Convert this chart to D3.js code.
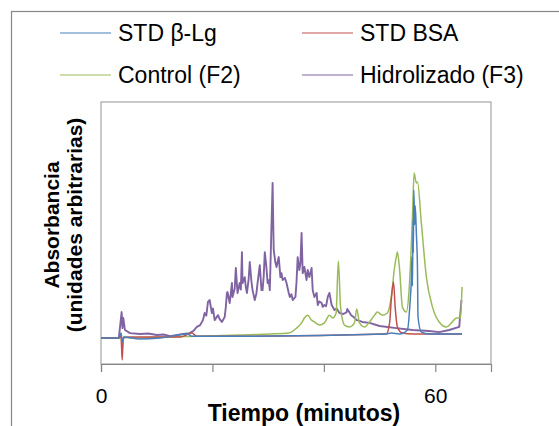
<!DOCTYPE html>
<html><head><meta charset="utf-8">
<script src="https://cdn.jsdelivr.net/npm/d3@7"></script>
<style>html,body{margin:0;padding:0;background:#fff;overflow:hidden}</style>
</head><body>
<svg id="c" width="559" height="426"></svg>
<script>
// ---- data: [time (min), absorbance (arbitrary units)] ----
const seriesNames = ["STD β-Lg", "STD BSA", "Control (F2)", "Hidrolizado (F3)"];
const seriesColors = ["#4A7EBB", "#C0504D", "#9BBB59", "#8064A2"];
const xTicks = [0, 20, 40, 60];
const xTickLabels = ["0", "", "", "60"];

const stdBLg = [[0,0],[3.2,0],[3.6,2.1],[3.8,-1.7],[4.1,0.4],[7.0,-0.4],[10.6,0],[15.6,1.7],[16.3,0.8],[26.7,0.8],[51.2,1.7],[52.1,2.1],[53.6,1.7],[55.0,3.4],[55.5,16.1],[55.7,24.6],[55.8,34.3],[55.9,22],[56.0,50],[56.05,36],[56.15,62.7],[56.3,48],[56.4,56],[56.6,44.5],[56.8,30.1],[56.9,8.9],[57.5,2.5],[58.9,1.7],[64.8,1.7]];
const stdBSA = [[0,0],[3.2,0],[3.6,0.8],[3.8,-9.3],[4.0,0],[5.2,0.4],[14.2,0.4],[16.3,2.1],[17.2,0.8],[26.7,0.8],[51.2,1.7],[51.8,6.4],[52.1,16.1],[52.5,23.7],[52.8,13.1],[53.2,4.7],[54.1,2.1],[55.9,1.7],[64.8,1.7]];
const controlF2 = [[0,0],[3.2,0],[3.6,1.7],[3.8,-5.1],[4.0,0.4],[5.2,0],[10.6,0.4],[17.7,0.8],[24.9,1.3],[30.3,1.7],[33.7,2.1],[35.1,4.2],[36.0,6.4],[36.5,8.5],[37.1,9.7],[37.8,7.6],[38.3,6.8],[39.2,5.5],[40.1,6.4],[41.0,9.7],[41.6,8.5],[42.2,10.6],[42.6,32.6],[43.0,13.1],[43.7,5.5],[44.6,4.7],[45.5,6.4],[45.9,12.3],[46.4,6.4],[47.3,4.7],[48.2,6.8],[49.1,9.7],[49.6,11.0],[50.5,9.7],[51.4,10.6],[52.1,17.4],[52.7,30.1],[53.0,34.3],[53.2,36.4],[53.6,28.8],[54.1,13.1],[54.8,11.0],[55.3,20.3],[55.9,51.3],[56.2,69.9],[56.6,65.7],[56.8,66.1],[57.5,48.7],[58.4,25.8],[59.5,13.1],[60.7,6.8],[62.0,4.7],[62.9,6.4],[63.8,8.5],[64.5,8.5],[64.8,21.6]];
const hidrolizadoF3 = [[0,0],[3.2,0],[3.7,11],[3.85,4.2],[4.0,8.5],[4.3,3.4],[5.2,2.1],[7.0,1.7],[8.5,1.9],[10.0,1.3],[11.2,1.5],[12.4,0.8],[13.5,1.2],[14.7,1.7],[15.9,2.1],[16.6,3.0],[17.2,4.7],[17.8,5.5],[18.3,7.6],[18.6,10.6],[18.9,9.5],[19.2,15.3],[19.5,16.1],[19.9,10.6],[20.1,12.5],[20.4,7.6],[21.0,9.7],[21.3,8.0],[21.7,6.8],[22.2,8.9],[22.4,13.0],[22.6,19.1],[22.7,19.5],[23.1,14.8],[23.5,23.3],[23.6,17.4],[24.0,21.0],[24.2,29.7],[24.5,19.1],[24.9,23.3],[25.1,20.5],[25.3,36.4],[25.4,23.3],[25.8,25.8],[26.0,21.5],[26.2,19.1],[26.5,25.0],[26.7,32.2],[27.0,24.0],[27.2,20.3],[27.6,16.1],[27.9,19.0],[28.1,23.3],[28.5,30.9],[28.8,20.3],[29.0,20.3],[29.2,26.0],[29.4,36.4],[29.7,29.7],[29.9,23.3],[30.1,24.5],[30.3,20.3],[30.8,65.7],[31.0,37.3],[31.3,32.0],[31.5,30.1],[31.9,34.3],[32.2,25.8],[32.4,27.5],[32.6,24.6],[33.0,25.5],[33.3,23.3],[33.7,19.1],[33.9,17.4],[34.2,18.5],[34.4,16.1],[34.9,17.4],[35.1,24.0],[35.3,34.3],[35.6,28.8],[35.8,32.0],[36.0,44.5],[36.2,27.5],[36.5,30.1],[36.9,24.6],[37.1,28.8],[37.4,25.8],[37.8,29.7],[38.0,20.3],[38.3,17.4],[38.7,19.1],[38.9,14.0],[39.2,15.5],[39.6,14.8],[39.8,13.2],[40.1,14.0],[40.4,13.5],[40.7,17.4],[41.0,19.1],[41.4,14.0],[41.9,11.9],[42.3,12.5],[42.8,10.6],[43.5,10.2],[44.1,11.0],[44.2,12.3],[44.5,11.2],[44.9,9.7],[45.4,8.8],[45.9,7.6],[46.4,7.3],[46.9,6.8],[48.2,6.4],[50.0,5.1],[53.0,4.2],[55.9,3.4],[58.9,3.0],[60.7,2.5],[62.5,3.4],[64.3,4.7],[64.7,16.1]];

const allSeries = [stdBLg, stdBSA, controlF2, hidrolizadoF3];
const drawOrder = [3, 2, 1, 0];

// ---- layout ----
const svg = d3.select("#c");
const plot = {left: 101, top: 102, right: 491, bottom: 364};

svg.append("rect").attr("x", 11.5).attr("y", 11.5).attr("width", 600).attr("height", 600)
  .attr("fill", "#fff").attr("stroke", "#868686").attr("stroke-width", 1.2);

const x = d3.scaleLinear().domain([0, 70]).range([plot.left, plot.right]);
const y = d3.scaleLinear().domain([-11, 100]).range([plot.bottom, plot.top]);

svg.append("rect").attr("x", plot.left).attr("y", plot.top)
  .attr("width", plot.right - plot.left).attr("height", plot.bottom - plot.top)
  .attr("fill", "none").attr("stroke", "#A6A6A6").attr("stroke-width", 1.2);

const smooth = d3.line().curve(d3.curveMonotoneX).x(d => x(d[0])).y(d => y(d[1]));
const straight = d3.line().x(d => x(d[0])).y(d => y(d[1]));
const g = svg.append("g");
drawOrder.forEach(i => {
  g.append("path").datum(allSeries[i]).attr("d", i === 3 ? straight : smooth)
    .attr("fill", "none").attr("stroke", seriesColors[i])
    .attr("stroke-width", i === 3 ? 1.9 : 1.5).attr("stroke-linejoin", "round");
});

// x axis
const xAxis = d3.axisBottom(x).tickValues(xTicks).tickSize(8)
  .tickFormat((d, i) => xTickLabels[i]);
const ax = svg.append("g").attr("transform", `translate(0,${plot.bottom})`).call(xAxis);
ax.select(".domain").attr("stroke", "#868686").attr("stroke-width", 1.2);
ax.selectAll(".tick line").attr("stroke", "#868686").attr("stroke-width", 1.2);
ax.selectAll(".tick text").attr("font-family", "Liberation Sans, Arial, sans-serif")
  .attr("font-size", 21).attr("fill", "#000").attr("y", 0).attr("dy", 0)
  .attr("transform", "translate(0,39)");

svg.append("text").attr("x", 304).attr("y", 421).attr("text-anchor", "middle")
  .attr("font-family", "Liberation Sans, Arial, sans-serif").attr("font-weight", "bold")
  .attr("font-size", 23).text("Tiempo (minutos)");

const yt = svg.append("text").attr("transform", "translate(0,225) rotate(-90)")
  .attr("text-anchor", "middle").attr("font-family", "Liberation Sans, Arial, sans-serif")
  .attr("font-weight", "bold").attr("font-size", 21);
yt.append("tspan").attr("x", 0).attr("y", 59).text("Absorbancia");
yt.append("tspan").attr("x", 0).attr("y", 82).text("(unidades arbitrarias)");

// legend
const legPos = [[60, 33], [302, 33], [60, 75], [302, 75]];
seriesNames.forEach((n, i) => {
  const [lx, ly] = legPos[i];
  svg.append("line").attr("x1", lx).attr("x2", lx + 51).attr("y1", ly).attr("y2", ly)
    .attr("stroke", seriesColors[i]).attr("stroke-width", 1.2);
  svg.append("text").attr("x", lx + 58).attr("y", ly + 8)
    .attr("font-family", "Liberation Sans, Arial, sans-serif").attr("font-size", 23)
    .attr("fill", "#000").text(n);
});
</script>
</body></html>
